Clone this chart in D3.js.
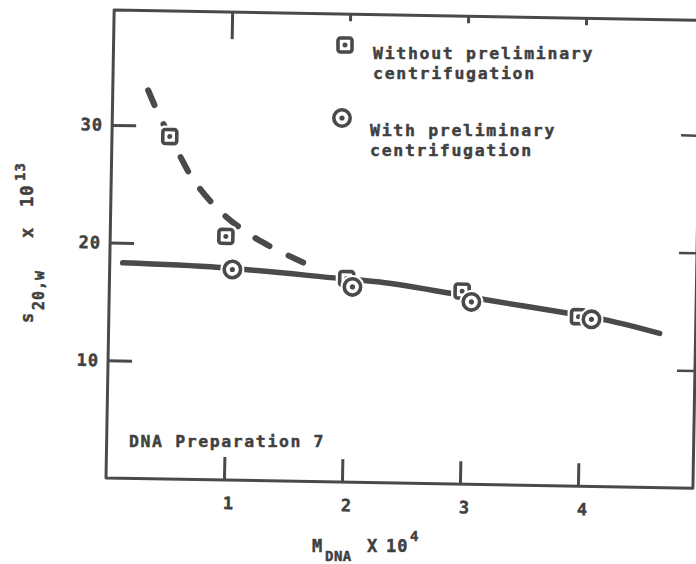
<!DOCTYPE html>
<html>
<head>
<meta charset="utf-8">
<script src="https://cdn.jsdelivr.net/npm/d3@7"></script>
<style>
  html, body { margin: 0; padding: 0; background: #ffffff; }
  svg { display: block; }
  text { font-family: "DejaVu Sans Mono", "Liberation Mono", monospace; font-weight: bold;
         fill: #404040; stroke: #404040; stroke-width: 0.45px; }
</style>
</head>
<body>
<svg id="chart" width="696" height="564"></svg>
<script>
// Sedimentation coefficient s20,w versus DNA molecular weight, preparation 7

// measured points, without preliminary centrifugation (squares)
const withoutCentX = [0.49, 0.98, 2.01, 2.99, 3.98];
const withoutCentY = [29.1, 20.7, 17.3, 16.4, 14.4];

// measured points, with preliminary centrifugation (circles)
const withCentX = [1.04, 2.06, 3.07, 4.09];
const withCentY = [17.9, 16.6, 15.5, 14.2];

// hand-drawn trend curves
const dashedCurveX = [0.30, 0.386, 0.49, 0.588, 0.70, 0.93, 1.23, 1.66];
const dashedCurveY = [33.0, 31.1, 29.1, 27.3, 25.4, 22.8, 20.6, 18.5];
const solidCurveX = [0.11, 0.93, 1.95, 2.29, 2.89, 3.19, 3.88, 4.22, 4.67];
const solidCurveY = [18.3, 18.05, 17.3, 17.05, 16.2, 15.7, 14.7, 14.15, 13.1];

// axis ticks
const xTicks = [1, 2, 3, 4];
const xTickLabels = ["1", "2", "3", "4"];
const yTicks = [10, 20, 30];
const yTickLabels = ["10", "20", "30"];

const INK = "#4a4a4a";
const W = 587, H = 468;

const svg = d3.select("#chart");

// the whole plot sits slightly tilted on the page
const g = svg.append("g")
  .attr("transform", `translate(106,478) rotate(1) translate(0,${-H})`);

const x = d3.scaleLinear().domain([0, 5]).range([0, 590]);
const y = d3.scaleLinear().domain([0, 39.76]).range([H, 0]);

// frame: left axis, bottom axis, top edge, right edge
g.append("path")
  .attr("d", `M${W + 14},0 H0 V${H} H${W} V${y(31)}`)
  .attr("fill", "none").attr("stroke", INK).attr("stroke-width", 3)
  .attr("stroke-linejoin", "round");

// left axis ticks (inward)
const yAxis = d3.axisLeft(y).tickValues(yTicks)
  .tickFormat((d, i) => yTickLabels[i])
  .tickSizeInner(-24).tickSizeOuter(0).tickPadding(9);
const ya = g.append("g").call(yAxis);
ya.select(".domain").remove();
ya.selectAll(".tick line").attr("stroke", INK).attr("stroke-width", 3);
ya.selectAll(".tick text").attr("font-size", 17).attr("letter-spacing", 1)
  .style("font-family", null).attr("fill", null);

// bottom axis ticks (inward)
const xAxis = d3.axisBottom(x).tickValues(xTicks)
  .tickFormat((d, i) => xTickLabels[i])
  .tickSizeInner(-23).tickSizeOuter(0).tickPadding(17);
const xa = g.append("g").attr("transform", `translate(0,${H})`).call(xAxis);
xa.select(".domain").remove();
xa.selectAll(".tick line").attr("stroke", INK).attr("stroke-width", 3);
xa.selectAll(".tick text").attr("font-size", 17).attr("dx", 4)
  .style("font-family", null).attr("fill", null);

// top edge ticks (first one long)
const xTop = d3.axisTop(x).tickValues(xTicks).tickFormat("").tickSizeOuter(0).tickSizeInner(0);
const xt = g.append("g").call(xTop);
xt.select(".domain").remove();
xt.selectAll(".tick line")
  .attr("y2", (d, i) => i === 0 ? 27 : 7)
  .attr("stroke", INK).attr("stroke-width", 3);

// right edge ticks (inward)
const yRight = d3.axisRight(y).tickValues(yTicks).tickFormat("").tickSizeOuter(0).tickSizeInner(0);
const yr = g.append("g").attr("transform", `translate(${W},0)`).call(yRight);
yr.select(".domain").remove();
yr.selectAll(".tick line").attr("x2", -18).attr("stroke", INK).attr("stroke-width", 2.5);

const line = d3.line().x(d => x(d[0])).y(d => y(d[1])).curve(d3.curveCatmullRom.alpha(0.5));

// dashed curve through the uncentrifuged samples; dashes sized so the curve
// starts and ends on a full dash
const dashed = g.append("path")
  .datum(dashedCurveX.map((v, i) => [v, dashedCurveY[i]]))
  .attr("d", line)
  .attr("fill", "none").attr("stroke", INK).attr("stroke-width", 6)
  .attr("stroke-linecap", "round");
{
  const L = dashed.node().getTotalLength();
  const n = 7, ratio = 0.95;
  const dash = L / (n + ratio * (n - 1));
  dashed.attr("stroke-dasharray", `${dash - 3},${dash * ratio + 3}`);
}

// solid curve through the centrifugated samples
g.append("path")
  .datum(solidCurveX.map((v, i) => [v, solidCurveY[i]]))
  .attr("d", line)
  .attr("fill", "none").attr("stroke", INK).attr("stroke-width", 5.5)
  .attr("stroke-linecap", "round");

// marker drawing helpers
function squareMarker(sel) {
  sel.append("rect").attr("x", -8).attr("y", -8).attr("width", 16).attr("height", 16)
    .attr("rx", 2.5).attr("fill", "#fff").attr("stroke", "#fff").attr("stroke-width", 6);
  sel.append("rect").attr("x", -7).attr("y", -7).attr("width", 14).attr("height", 14)
    .attr("rx", 2.5).attr("fill", "#fff").attr("stroke", INK).attr("stroke-width", 3.6);
  sel.append("circle").attr("r", 2.5).attr("fill", INK);
}
function circleMarker(sel) {
  sel.append("circle").attr("r", 9.5).attr("fill", "#fff").attr("stroke", "#fff").attr("stroke-width", 5);
  sel.append("circle").attr("r", 8.2).attr("fill", "#fff").attr("stroke", INK).attr("stroke-width", 3.6);
  sel.append("circle").attr("r", 2.6).attr("fill", INK);
}

g.selectAll("g.sq")
  .data(withoutCentX.map((v, i) => [v, withoutCentY[i]]))
  .join("g").attr("class", "sq")
  .attr("transform", d => `translate(${x(d[0])},${y(d[1])})`)
  .call(squareMarker);

g.selectAll("g.ci")
  .data(withCentX.map((v, i) => [v, withCentY[i]]))
  .join("g").attr("class", "ci")
  .attr("transform", d => `translate(${x(d[0])},${y(d[1])})`)
  .call(circleMarker);

// legend
const legend = svg.append("g");
legend.append("g").attr("transform", "translate(345,45)").call(squareMarker);
legend.append("g").attr("transform", "translate(342,118)").call(circleMarker);
const legendText = [
  { t: "Without preliminary", x: 373, y: 59 },
  { t: "centrifugation", x: 373, y: 79 },
  { t: "With preliminary", x: 370, y: 136 },
  { t: "centrifugation", x: 370, y: 156 }
];
legend.selectAll("text").data(legendText).join("text")
  .attr("x", d => d.x).attr("y", d => d.y)
  .attr("font-size", 16.5).attr("letter-spacing", 1.7)
  .text(d => d.t);

// panel note
svg.append("text").attr("x", 129).attr("y", 447)
  .attr("font-size", 16.5).attr("letter-spacing", 1.6)
  .text("DNA Preparation 7");

// x axis title: M_DNA x 10^4
const xt2 = svg.append("g");
xt2.append("text").attr("x", 312).attr("y", 552).attr("font-size", 17).text("M");
xt2.append("text").attr("x", 325).attr("y", 561).attr("font-size", 14).attr("letter-spacing", 0.5).text("DNA");
xt2.append("text").attr("x", 367).attr("y", 552).attr("font-size", 17).text("X");
xt2.append("text").attr("x", 386).attr("y", 552).attr("font-size", 17).attr("letter-spacing", 1).text("10");
xt2.append("text").attr("x", 410).attr("y", 541).attr("font-size", 14).text("4");

// y axis title: s_20,w x 10^13 (reads bottom to top)
const yTitle = [
  { t: "s", bx: 33, by: 323, fs: 17 },
  { t: "20,w", bx: 44, by: 310, fs: 15 },
  { t: "x", bx: 33, by: 238, fs: 17 },
  { t: "10", bx: 33, by: 207, fs: 17 },
  { t: "13", bx: 25, by: 181, fs: 14 }
];
svg.append("g").selectAll("text").data(yTitle).join("text")
  .attr("transform", d => `translate(${d.bx},${d.by}) rotate(-90)`)
  .attr("font-size", d => d.fs).attr("letter-spacing", 1)
  .text(d => d.t);
</script>
</body>
</html>
